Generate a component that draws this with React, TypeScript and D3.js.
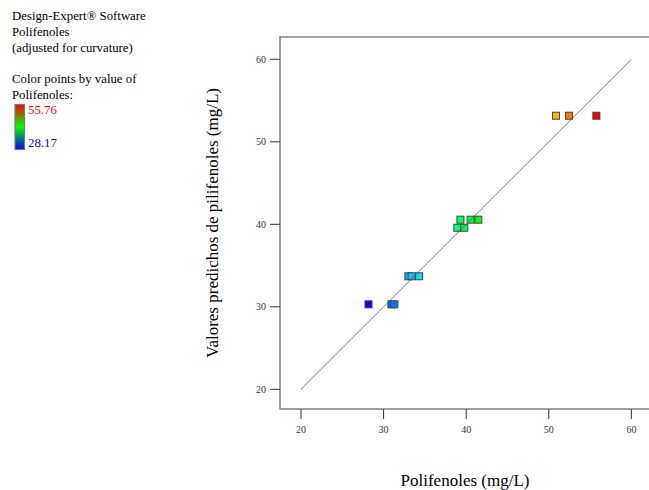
import React from 'react';
import * as d3 from 'd3';

// actual vs predicted (Polifenoles, mg/L)
const actual = [55.76, 52.45, 50.87, 39.3, 40.54, 41.47, 38.93, 39.77, 33.0, 33.4, 34.3, 28.17, 30.95, 31.3];
const predicted = [53.16, 53.16, 53.16, 40.56, 40.56, 40.56, 39.58, 39.58, 33.7, 33.7, 33.7, 30.3, 30.3, 30.3];
const ticks = [20, 30, 40, 50, 60];
const infoLines = ['Design-Expert® Software', 'Polifenoles', '(adjusted for curvature)'];
const legendLines = ['Color points by value of', 'Polifenoles:'];
const colorMin = 28.17;
const colorMax = 55.76;

const App = () => {
  const width = 649;
  const height = 490;
  const margin = { left: 280, right: 1, top: 37, bottom: 81 };

  const x = d3.scaleLinear().domain([20, 60]).range([301, 631.4]);
  const y = d3.scaleLinear().domain([20, 60]).range([389.3, 59.3]);

  const step = (colorMax - colorMin) / 4;
  const color = d3.scaleLinear<string>()
    .domain([0, 1, 2, 3, 4].map(i => colorMin + i * step))
    .range(['#0000ff', '#00ffff', '#00ff00', '#ffff00', '#ff0000'])
    .interpolate(d3.interpolateRgb);

  const axisColor = '#808080';
  const font = '"Liberation Serif", "Times New Roman", serif';
  const sq = 7;

  // draw order: lower values first
  const idx = d3.range(actual.length).sort((a, b) => actual[a] - actual[b]);

  return (
    <svg width={width} height={height} style={{ position: 'absolute', left: 0, top: 0 }} fontFamily={font}>
      {infoLines.map((t, i) => (
        <text key={t} x={12} y={20 + i * 16} fontSize={12.8} fill="#000">{t}</text>
      ))}
      {legendLines.map((t, i) => (
        <text key={t} x={12} y={83 + i * 16} fontSize={12.8} fill="#000">{t}</text>
      ))}
      <defs>
        <linearGradient id="cbar" x1="0" y1="0" x2="0" y2="1">
          <stop offset="0%" stopColor="#ff0000" />
          <stop offset="50%" stopColor="#00ff00" />
          <stop offset="100%" stopColor="#0000ff" />
        </linearGradient>
      </defs>
      <rect x={15} y={104.5} width={9.5} height={45} fill="url(#cbar)" stroke="#777" strokeWidth={1.2} />
      <text x={28} y={114} fontSize={12.8} fill="#ff0000">{colorMax.toFixed(2)}</text>
      <text x={28} y={146.5} fontSize={12.8} fill="#0000ff">{colorMin.toFixed(2)}</text>

      {/* frame */}
      <path
        d={`M${width + 2},${margin.top} H${margin.left} V${height - margin.bottom} H${width + 2}`}
        fill="none"
        stroke={axisColor}
        strokeWidth={1.5}
      />

      {ticks.map(t => (
        <g key={'x' + t}>
          <line x1={x(t)} x2={x(t)} y1={409} y2={419} stroke="#333" strokeWidth={1} />
          <text x={x(t)} y={433} fontSize={10} textAnchor="middle" fill="#333">{t}</text>
        </g>
      ))}
      {ticks.map(t => (
        <g key={'y' + t}>
          <line x1={270} x2={280} y1={y(t)} y2={y(t)} stroke="#333" strokeWidth={1} />
          <text x={266} y={y(t) + 3.5} fontSize={10} textAnchor="end" fill="#333">{t}</text>
        </g>
      ))}

      {idx.map(i => (
        <rect
          key={i}
          x={x(actual[i]) - sq / 2}
          y={y(predicted[i]) - sq / 2}
          width={sq}
          height={sq}
          fill={color(actual[i])}
          stroke="#444"
          strokeWidth={1}
        />
      ))}

      <line x1={x(20)} y1={y(20)} x2={x(60)} y2={y(60)} stroke="#555" strokeWidth={0.8} />

      <text x={465} y={485.5} fontSize={17} textAnchor="middle" fill="#000">Polifenoles (mg/L)</text>
      <text
        transform={`translate(218, 223) rotate(-90)`}
        fontSize={17}
        textAnchor="middle"
        fill="#000"
      >
        Valores predichos de pilifenoles (mg/L)
      </text>
    </svg>
  );
};

export default App;
